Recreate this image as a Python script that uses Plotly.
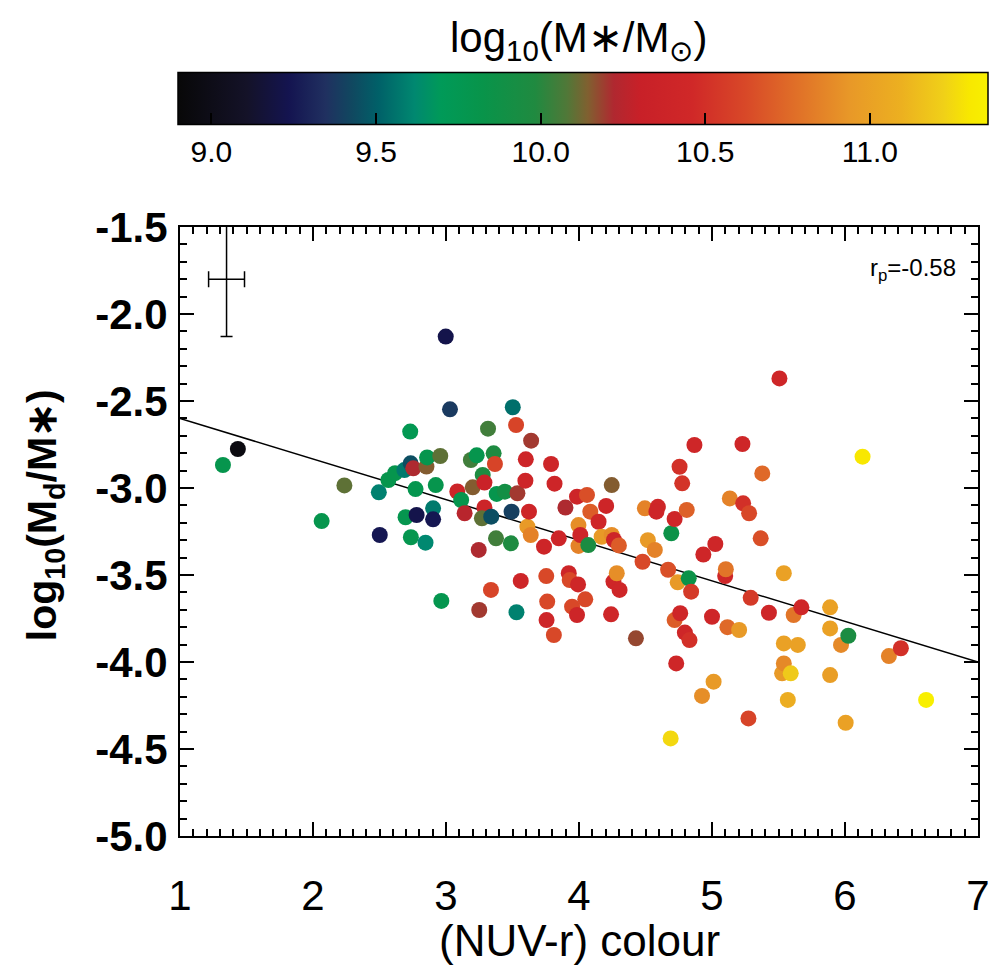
import plotly.graph_objects as go

# ---------------- data ----------------
nuv_r = [1.435, 1.323, 2.065, 2.236, 2.495, 2.502, 2.567, 2.617, 2.687, 2.734,
         2.754, 2.853, 2.858, 2.731, 2.771, 2.923, 2.696, 2.779, 2.903, 2.903,
         2.736, 2.846, 2.965, 2.957, 2.998, 3.03, 3.085, 3.114, 3.14, 3.187,
         3.201, 3.231, 3.246, 3.25, 3.276, 3.289, 3.289, 3.27, 3.34, 3.316,
         3.338, 3.358, 3.368, 3.376, 3.381, 3.443, 3.488, 3.493, 3.502, 3.527,
         3.53, 3.537, 3.562, 3.597, 3.60, 3.612, 3.624, 3.637, 3.64, 3.737,
         3.754, 3.756, 3.761, 3.79, 3.811, 3.816, 3.848, 3.898, 3.923, 3.93,
         3.948, 3.985, 3.985, 3.993, 3.996, 3.996, 4.01, 4.047, 4.06, 4.07,
         4.085, 4.147, 4.17, 4.204, 4.241, 4.246, 4.246, 4.259, 4.263, 4.284,
         4.305, 4.30, 4.428, 4.478, 4.495, 4.518, 4.57, 4.593, 4.582, 4.67,
         4.689, 4.694, 4.719, 4.719, 4.731, 4.742, 4.756, 4.761, 4.776, 4.796,
         4.81, 4.825, 4.831, 4.843, 4.868, 4.925, 4.935, 5.0, 5.012, 5.025,
         5.099, 5.104, 5.116, 5.134, 5.204, 5.229, 5.234, 5.274, 5.279, 5.291,
         5.366, 5.378, 5.428, 5.507, 5.527, 5.54, 5.54, 5.54, 5.57, 5.592,
         5.614, 5.645, 5.672, 5.888, 5.888, 5.888, 5.97, 6.005, 6.025, 6.132,
         6.33, 6.42, 6.61]

log_md_mstar = [-2.776, -2.868, -3.19, -2.985, -3.025, -3.27, -2.954, -2.915, -2.897, -2.858,
                -2.887, -2.877, -2.824, -2.676, -3.006, -2.983, -3.168, -3.155, -3.117, -3.18,
                -3.283, -3.314, -3.649, -2.816, -2.130, -2.548, -3.02, -3.069, -3.145, -2.839,
                -2.996, -2.812, -3.356, -3.701, -2.925, -2.969, -3.112, -3.174, -3.165, -2.659,
                -3.586, -2.801, -2.862, -3.289, -3.034, -3.021, -3.318, -3.136, -2.536, -2.638,
                -3.714, -3.03, -3.534, -2.958, -2.835, -3.222, -3.136, -3.27, -2.728, -3.337,
                -3.506, -3.759, -3.653, -2.862, -3.845, -2.975, -3.289, -3.112, -3.49, -3.529,
                -3.682, -3.05, -3.73, -3.554, -3.213, -3.333, -3.27, -3.64, -3.04, -3.328,
                -3.136, -3.194, -3.28, -3.103, -3.726, -2.983, -3.27, -3.538, -3.299, -3.49,
                -3.586, -3.33, -3.864, -3.424, -3.117, -3.30, -3.356, -3.108, -3.136, -3.47,
                -4.439, -3.26, -3.178, -3.759, -4.008, -3.542, -2.878, -3.72, -2.973, -3.831,
                -3.126, -3.519, -3.874, -3.596, -2.753, -4.195, -3.382, -3.74, -4.113, -3.322,
                -3.506, -3.467, -3.80, -3.06, -3.816, -2.747, -3.088, -4.324, -3.145, -3.631,
                -3.289, -2.916, -3.717, -2.37, -4.065, -3.49, -3.893, -4.008, -4.218, -4.065,
                -3.73, -3.902, -3.686, -3.686, -3.807, -4.075, -3.902, -4.349, -3.849, -2.82,
                -3.966, -3.921, -4.218]

log_mstar = [8.95, 9.8, 9.8, 10.1, 9.6, 9.25, 9.8, 9.8, 9.58, 9.45,
             10.22, 10.15, 9.8, 9.75, 9.78, 9.8, 9.78, 9.22, 9.58, 9.25,
             9.78, 9.62, 9.78, 10.1, 9.22, 9.38, 10.38, 9.8, 10.25, 10.05,
             10.15, 9.8, 10.22, 10.2, 9.97, 10.35, 10.38, 10.1, 9.45, 10.05,
             10.6, 9.97, 10.6, 10.05, 9.8, 9.9, 9.97, 9.4, 9.55, 10.6,
             9.6, 10.2, 10.4, 10.4, 10.4, 10.95, 10.4, 10.85, 10.2, 10.4,
             10.62, 10.4, 10.62, 10.4, 10.62, 10.4, 10.4, 10.22, 10.4, 10.62,
             10.62, 10.4, 10.4, 10.42, 10.9, 10.85, 10.4, 10.62, 10.65, 9.95,
             10.7, 10.42, 10.95, 10.4, 10.42, 10.15, 10.9, 10.42, 10.4, 10.9,
             10.42, 10.7, 10.18, 10.62, 10.85, 10.95, 10.85, 10.42, 10.4, 10.65,
             11.25, 9.85, 10.42, 10.7, 10.42, 10.95, 10.5, 10.42, 10.52, 10.42,
             10.72, 9.85, 10.5, 10.55, 10.42, 10.9, 10.42, 10.42, 10.95, 10.42,
             10.42, 10.8, 10.75, 10.85, 10.95, 10.42, 10.5, 10.6, 10.62, 10.55,
             10.65, 10.75, 10.42, 10.42, 10.95, 11.0, 11.0, 10.88, 11.08, 11.2,
             10.8, 11.0, 10.45, 11.0, 11.0, 10.98, 10.88, 11.0, 9.95, 11.3,
             10.85, 10.5, 11.35]

fit_x = [1.0, 7.0]
fit_y = [-2.60, -4.00]

err_x_pos = [1.35]
err_y_pos = [-1.80]
err_x_size = [0.135]
err_y_size = [0.33]

mass_min, mass_max = 8.9, 11.36
cbar_tickvals = [9.0, 9.5, 10.0, 10.5, 11.0]
cbar_ticktext = ["9.0", "9.5", "10.0", "10.5", "11.0"]

x_tickvals = [1, 2, 3, 4, 5, 6, 7]
x_ticktext = ["1", "2", "3", "4", "5", "6", "7"]
y_tickvals = [-1.5, -2.0, -2.5, -3.0, -3.5, -4.0, -4.5, -5.0]
y_ticktext = ["-1.5", "-2.0", "-2.5", "-3.0", "-3.5", "-4.0", "-4.5", "-5.0"]

colorscale = [
    [0.000, "#080808"],
    [0.085, "#141228"],
    [0.137, "#141450"],
    [0.182, "#203060"],
    [0.215, "#104860"],
    [0.247, "#006068"],
    [0.292, "#008870"],
    [0.325, "#009a58"],
    [0.376, "#08944a"],
    [0.441, "#208a40"],
    [0.480, "#507838"],
    [0.506, "#806030"],
    [0.538, "#b02830"],
    [0.570, "#c82028"],
    [0.635, "#d02828"],
    [0.700, "#d84828"],
    [0.764, "#e07028"],
    [0.829, "#e89828"],
    [0.893, "#ecb020"],
    [0.945, "#f0d018"],
    [0.977, "#f8e800"],
    [1.000, "#f8f000"],
]

FONT = "Liberation Sans"

fig = go.Figure()

fig.add_trace(go.Scatter(
    x=fit_x, y=fit_y, mode="lines",
    line=dict(color="black", width=1.5), showlegend=False, hoverinfo="skip"))

fig.add_trace(go.Scatter(
    x=nuv_r, y=log_md_mstar, mode="markers",
    marker=dict(
        size=16, color=log_mstar, colorscale=colorscale,
        cmin=mass_min, cmax=mass_max, line=dict(width=0),
        colorbar=dict(
            orientation="h", x=0.5056, xanchor="center",
            y=1.059, yanchor="bottom", len=1.040, lenmode="fraction",
            thickness=52, outlinewidth=1.5, outlinecolor="black",
            ticks="inside", ticklen=12, tickwidth=1.5, tickcolor="black",
            tickvals=cbar_tickvals, ticktext=cbar_ticktext,
            tickfont=dict(family=FONT, size=30, color="black"),
        ),
    ),
    showlegend=False))

fig.add_trace(go.Scatter(
    x=err_x_pos, y=err_y_pos, mode="markers",
    marker=dict(size=1, color="black"),
    error_x=dict(type="data", array=err_x_size, color="black", thickness=1.5, width=8),
    error_y=dict(type="data", array=err_y_size, color="black", thickness=1.5, width=6),
    showlegend=False, hoverinfo="skip"))

# correlation coefficient label
fig.add_annotation(
    x=6.85, y=-1.747, xref="x", yref="y", xanchor="right", yanchor="middle",
    text="r<sub>p</sub>=-0.58", showarrow=False,
    font=dict(family=FONT, size=24, color="black"))

# colour bar title
fig.add_annotation(
    x=0.499, y=1.307, xref="paper", yref="paper", xanchor="center", yanchor="middle",
    text="log<sub>10</sub>(M∗/M<sub>⊙</sub>)", showarrow=False,
    font=dict(family=FONT, size=42, color="black"))

# x axis title
fig.add_annotation(
    x=0.5, y=-0.171, xref="paper", yref="paper", xanchor="center", yanchor="middle",
    text="(NUV-r) colour", showarrow=False,
    font=dict(family=FONT, size=44, color="black"))

# y axis title
fig.add_annotation(
    x=-0.169, y=0.527, xref="paper", yref="paper", xanchor="center", yanchor="middle",
    text="<b>log<sub>10</sub>(M<sub>d</sub>/M∗)</b>", showarrow=False, textangle=-90,
    font=dict(family=FONT, size=41, color="black"))

axis_common = dict(
    showgrid=False, zeroline=False, showline=True, linecolor="black", linewidth=2,
    mirror="allticks", ticks="inside", ticklen=14, tickwidth=2, tickcolor="black",
)

fig.update_xaxes(
    range=[1, 7], tickvals=x_tickvals, ticktext=x_ticktext,
    minor=dict(dtick=0.1, tick0=1, ticks="inside", ticklen=7, tickwidth=1.5, tickcolor="black"),
    tickfont=dict(family=FONT, size=42, color="black"),
    ticklabelstandoff=22,
    **axis_common)

fig.update_yaxes(
    range=[-5, -1.5], tickvals=y_tickvals, ticktext=y_ticktext,
    minor=dict(dtick=0.1, tick0=-5, ticks="inside", ticklen=7, tickwidth=1.5, tickcolor="black"),
    tickfont=dict(family=FONT, size=42, color="black", weight="bold"),
    ticklabelstandoff=2,
    **axis_common)

fig.update_layout(
    width=1002, height=966,
    margin=dict(l=180, r=24, t=227, b=130, autoexpand=False),
    plot_bgcolor="white", paper_bgcolor="white",
    font=dict(family=FONT, color="black"),
)

fig.write_html("out.html")
